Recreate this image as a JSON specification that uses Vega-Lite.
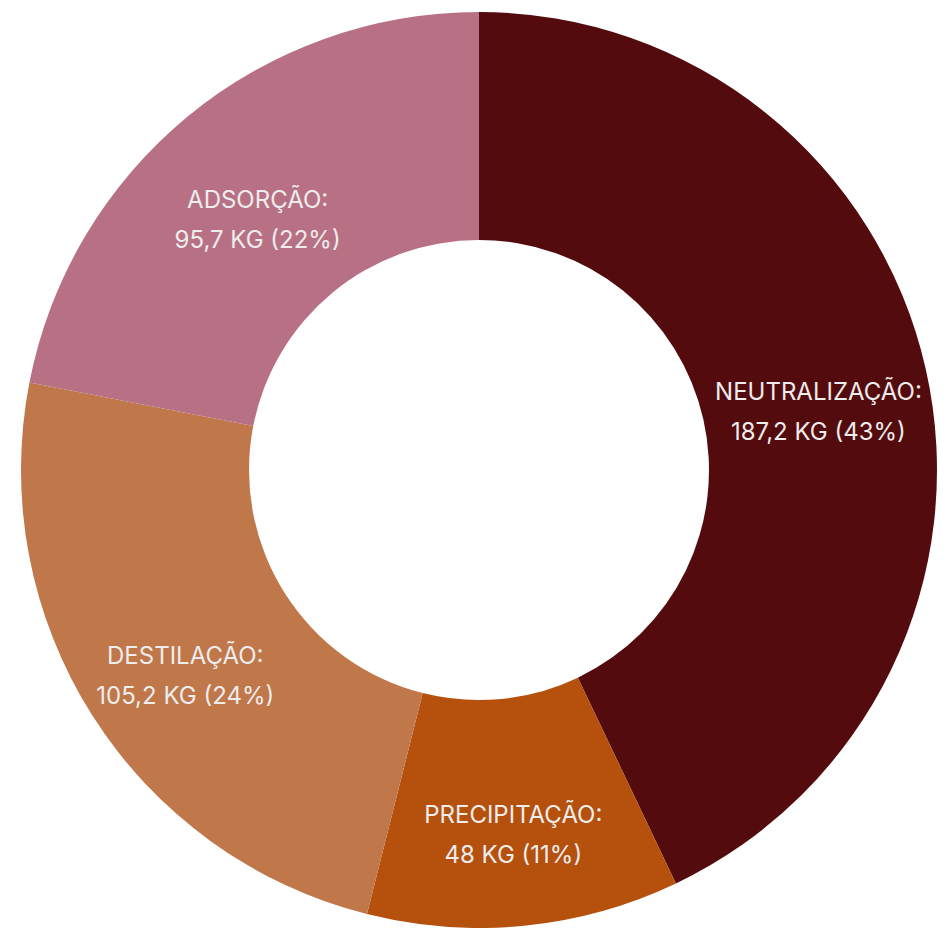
{
  "$schema": "https://vega.github.io/schema/vega-lite/v6.json",
  "autosize": {"type": "fit", "contains": "padding"},
  "width": 948,
  "height": 928,
  "padding": {"left": 10, "top": 12, "right": 0, "bottom": 0},
  "background": "white",
  "view": {"stroke": null},
  "data": {
    "values": [
      {"name": "Neutralização", "value": 187.2, "order": 1},
      {"name": "Precipitação", "value": 48, "order": 2},
      {"name": "Destilação", "value": 105.2, "order": 3},
      {"name": "Adsorção", "value": 95.7, "order": 4}
    ]
  },
  "transform": [
    {"joinaggregate": [{"op": "sum", "field": "value", "as": "total"}]},
    {"calculate": "[upper(datum.name) + ':', replace(toString(datum.value), '.', ',') + ' KG (' + format(datum.value / datum.total, '.0%') + ')']", "as": "label"}
  ],
  "encoding": {
    "theta": {"field": "value", "type": "quantitative", "stack": true},
    "order": {"field": "order", "type": "quantitative"},
    "color": {
      "field": "name",
      "type": "nominal",
      "scale": {
        "domain": ["Neutralização", "Precipitação", "Destilação", "Adsorção"],
        "range": ["#540B0E", "#B5500D", "#C0774A", "#B87184"]
      },
      "legend": null
    }
  },
  "layer": [
    {"mark": {"type": "arc", "innerRadius": 230, "outerRadius": 458}},
    {
      "mark": {"type": "text", "radius": 348, "font": "Inter", "fontSize": 24, "lineHeight": 40, "align": "center", "baseline": "middle"},
      "encoding": {
        "text": {"field": "label"},
        "color": {"value": "#ededed"}
      }
    }
  ]
}
